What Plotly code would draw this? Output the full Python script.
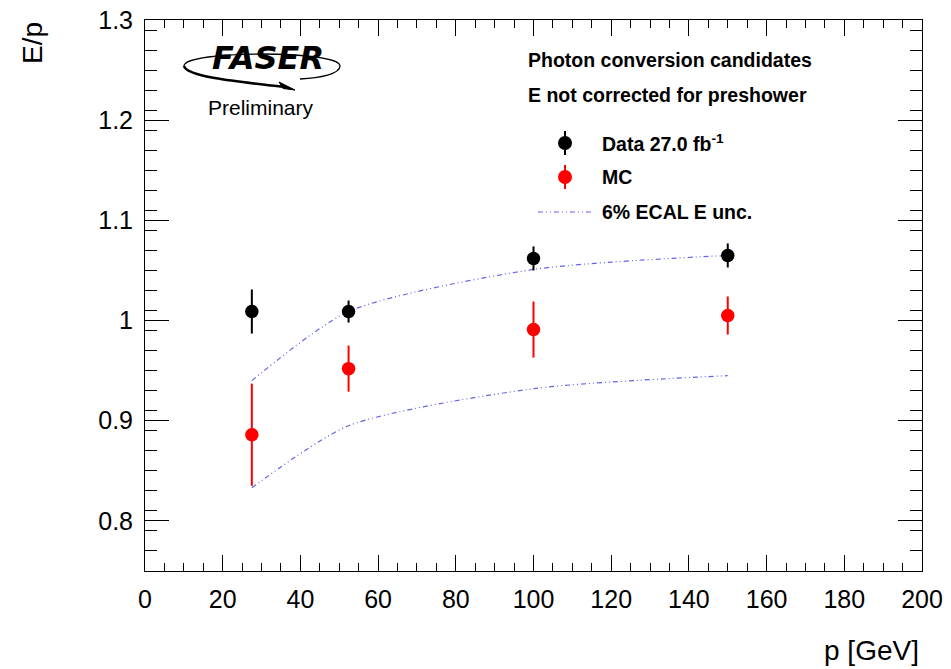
import plotly.graph_objects as go

# Momentum bins and measured E/p
p_gev = [27.5, 52.4, 100.0, 150.0]
data_ep = [1.009, 1.009, 1.062, 1.065]
data_err = [0.022, 0.011, 0.012, 0.012]
mc_ep = [0.886, 0.952, 0.991, 1.005]
mc_err = [0.051, 0.023, 0.028, 0.019]
# 6% ECAL energy uncertainty envelope around the simulation
band_hi = [0.940, 1.009, 1.051, 1.065]
band_lo = [0.833, 0.895, 0.932, 0.945]

x_ticks = [0, 20, 40, 60, 80, 100, 120, 140, 160, 180, 200]
y_ticks = [0.8, 0.9, 1.0, 1.1, 1.2, 1.3]
y_tick_text = ["0.8", "0.9", "1", "1.1", "1.2", "1.3"]

W, H = 951, 669
L, R, T, B = 145, 922, 20, 571
FONT = "Liberation Sans, Arial, Helvetica, sans-serif"
BAND_COLOR = "rgb(100,100,235)"
DASH = "5px,3px,1px,3px,1px,3px"
LEG_SIZE = 19.5


def px(x):
    return (x - L) / (R - L)


def py(y):
    return (B - y) / (B - T)


fig = go.Figure()

band_line = dict(color=BAND_COLOR, width=1.2, dash=DASH, shape="spline", smoothing=0.7)
fig.add_trace(go.Scatter(x=p_gev, y=band_hi, mode="lines", line=band_line, hoverinfo="skip"))
fig.add_trace(go.Scatter(x=p_gev, y=band_lo, mode="lines", line=band_line, hoverinfo="skip"))

fig.add_trace(go.Scatter(
    x=p_gev, y=mc_ep, mode="markers",
    marker=dict(color="red", size=13.5, symbol="circle"),
    error_y=dict(type="data", array=mc_err, color="red", thickness=2, width=0),
))
fig.add_trace(go.Scatter(
    x=p_gev, y=data_ep, mode="markers",
    marker=dict(color="black", size=13.5, symbol="circle"),
    error_y=dict(type="data", array=data_err, color="black", thickness=2, width=0),
))

shapes = []
annotations = []

# Legend block
annotations.append(dict(text="<b>Photon conversion candidates</b>", x=px(526), y=py(60),
                        xanchor="left", yanchor="middle", font=dict(size=LEG_SIZE)))
annotations.append(dict(text="<b>E not corrected for preshower</b>", x=px(526), y=py(95),
                        xanchor="left", yanchor="middle", font=dict(size=LEG_SIZE)))
legend_rows = [("<b>Data 27.0 fb<sup>-1</sup></b>", 143, "black"),
               ("<b>MC</b>", 177, "red")]
for label, yy, col in legend_rows:
    shapes.append(dict(type="line", x0=px(565), x1=px(565), y0=py(yy - 12), y1=py(yy + 12),
                       line=dict(color=col, width=2)))
    shapes.append(dict(type="circle", x0=px(558), x1=px(572), y0=py(yy - 7), y1=py(yy + 7),
                       fillcolor=col, line=dict(color=col, width=0)))
    annotations.append(dict(text=label, x=px(600), y=py(yy), xanchor="left", yanchor="middle",
                            font=dict(size=LEG_SIZE)))
shapes.append(dict(type="line", x0=px(538), x1=px(591), y0=py(212), y1=py(212),
                   line=dict(color=BAND_COLOR, width=1.2, dash=DASH)))
annotations.append(dict(text="<b>6% ECAL E unc.</b>", x=px(600), y=py(212), xanchor="left",
                        yanchor="middle", font=dict(size=LEG_SIZE)))

# FASER logo
shapes.append(dict(type="path",
                   path=f"M {px(184)} {py(66)} C {px(184)} {py(50)}, {px(340)} {py(50)}, {px(340)} {py(66)} "
                        f"C {px(340)} {py(74)}, {px(320)} {py(78)}, {px(300)} {py(79)}",
                   line=dict(color="black", width=1.3)))
shapes.append(dict(type="path",
                   path=f"M {px(184)} {py(66)} C {px(186)} {py(76)}, {px(230)} {py(81)}, {px(285)} {py(87)}",
                   line=dict(color="black", width=2.6)))
shapes.append(dict(type="path",
                   path=f"M {px(295)} {py(90)} L {px(279)} {py(82)} L {px(283)} {py(88.5)} Z",
                   fillcolor="black", line=dict(color="black", width=1)))
annotations.append(dict(text="<b><i>FASER</i></b>", x=px(268), y=py(58), xanchor="center",
                        yanchor="middle", font=dict(size=32, family="DejaVu Sans, sans-serif")))
annotations.append(dict(text="Preliminary", x=px(261), y=py(108), xanchor="center",
                        yanchor="middle", font=dict(size=21)))

# Axis titles
annotations.append(dict(text="p [GeV]", x=px(921), y=py(650), xanchor="right", yanchor="middle",
                        font=dict(size=28)))
annotations.append(dict(text="E/p", x=px(32), y=py(20), xanchor="center", yanchor="top",
                        textangle=-90, font=dict(size=28)))

for a in annotations:
    a.update(xref="paper", yref="paper", showarrow=False)
    a.setdefault("font", {})
    a["font"].setdefault("color", "black")
for s in shapes:
    s.update(xref="paper", yref="paper", layer="above")

fig.update_layout(
    width=W, height=H,
    margin=dict(l=L, r=W - R, t=T, b=H - B, pad=0, autoexpand=False),
    paper_bgcolor="white", plot_bgcolor="white",
    font=dict(family=FONT, color="black"),
    showlegend=False,
    shapes=shapes,
    annotations=annotations,
    xaxis=dict(
        range=[0, 200], tickvals=x_ticks, ticks="inside", ticklen=16, tickwidth=1,
        tickcolor="black", showline=True, linecolor="black", linewidth=1, mirror="allticks",
        showgrid=False, zeroline=False, tickfont=dict(size=25), automargin=False,
        minor=dict(dtick=5, ticks="inside", ticklen=8, tickcolor="black", showgrid=False),
        ticklabelstandoff=6,
    ),
    yaxis=dict(
        range=[0.75, 1.3], tickvals=y_ticks, ticktext=y_tick_text, ticks="inside", ticklen=24,
        tickwidth=1, tickcolor="black", showline=True, linecolor="black", linewidth=1,
        mirror="allticks", showgrid=False, zeroline=False, tickfont=dict(size=25), automargin=False,
        minor=dict(dtick=0.02, tick0=0.75, ticks="inside", ticklen=12, tickcolor="black", showgrid=False),
        ticklabelstandoff=6,
    ),
)

fig.write_html("out.html")
